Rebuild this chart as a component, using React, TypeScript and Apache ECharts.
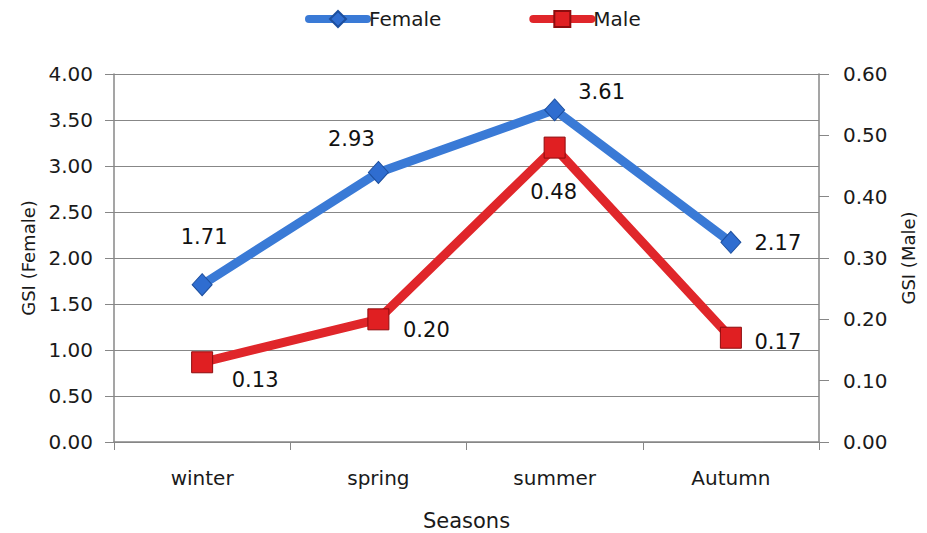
import React, { useEffect, useRef } from "react";
import * as echarts from "echarts";

const seasons = ["winter", "spring", "summer", "Autumn"];
const femaleGSI = [1.71, 2.93, 3.61, 2.17];
const maleGSI = [0.13, 0.2, 0.48, 0.17];
const leftTicks = { min: 0, max: 4, interval: 0.5 };
const rightTicks = { min: 0, max: 0.6, interval: 0.1 };

// where each value label sits relative to its marker centre (px)
const femaleLabelOffsets: [number, number][] = [
  [2, -48],
  [-27, -33],
  [47, -18],
  [47, 1],
];
const maleLabelOffsets: [number, number][] = [
  [53, 18],
  [48, 11],
  [-1, 44],
  [47, 4],
];

const FONT = "'DejaVu Sans', 'Noto Sans', sans-serif";
const AXIS_GREY = "#878787";
const TEXT = "#1a1a1a";

export default function App() {
  const ref = useRef<HTMLDivElement>(null);

  useEffect(() => {
    if (!ref.current) return;
    const chart = echarts.init(ref.current, undefined, { renderer: "svg" });

    const withLabels = (values: number[], offsets: [number, number][]) =>
      values.map((v, i) => ({
        value: v,
        label: { position: "inside", offset: offsets[i] },
      }));

    const valueLabel = {
      show: true,
      fontSize: 21,
      color: "#111",
      fontFamily: FONT,
      align: "center",
      verticalAlign: "middle",
      formatter: (p: any) => Number(p.value).toFixed(2),
    };

    const valueAxisCommon = {
      type: "value",
      nameLocation: "middle",
      nameRotate: 90,
      nameTextStyle: { fontSize: 18, color: TEXT, fontFamily: FONT },
      axisLine: { show: true, lineStyle: { color: AXIS_GREY, width: 1.5 } },
      axisLabel: {
        fontSize: 20,
        color: TEXT,
        fontFamily: FONT,
        formatter: (v: number) => v.toFixed(2),
      },
    };

    chart.setOption({
      animation: false,
      backgroundColor: "#ffffff",
      textStyle: { fontFamily: FONT },
      legend: {
        top: 4,
        left: 300,
        itemWidth: 58,
        itemHeight: 20,
        itemGap: 88,
        lineStyle: { width: 8, cap: "round" },
        textStyle: { fontSize: 20, color: TEXT, fontFamily: FONT, padding: [0, 0, 0, -3] },
        data: ["Female", "Male"],
      },
      grid: { left: 114, right: 108, top: 74, bottom: 91, outerBoundsMode: "none" },
      xAxis: {
        type: "category",
        data: seasons,
        boundaryGap: true,
        name: "Seasons",
        nameLocation: "middle",
        nameGap: 68,
        nameTextStyle: { fontSize: 21, color: TEXT, fontFamily: FONT },
        axisLine: { lineStyle: { color: AXIS_GREY, width: 1.5 } },
        axisTick: { show: true, inside: false, length: 8, lineStyle: { color: AXIS_GREY } },
        axisLabel: { fontSize: 20, color: TEXT, margin: 26, fontFamily: FONT },
      },
      yAxis: [
        {
          ...valueAxisCommon,
          min: leftTicks.min,
          max: leftTicks.max,
          interval: leftTicks.interval,
          name: "GSI (Female)",
          nameGap: 76,
          axisTick: { show: true, length: 9, lineStyle: { color: AXIS_GREY } },
          axisLabel: { ...valueAxisCommon.axisLabel, margin: 21 },
          splitLine: { show: true, lineStyle: { color: AXIS_GREY, width: 1 } },
        },
        {
          ...valueAxisCommon,
          position: "right",
          min: rightTicks.min,
          max: rightTicks.max,
          interval: rightTicks.interval,
          name: "GSI (Male)",
          nameGap: 80,
          axisTick: { show: true, length: 10, lineStyle: { color: AXIS_GREY } },
          axisLabel: { ...valueAxisCommon.axisLabel, margin: 24 },
          splitLine: { show: false },
        },
      ],
      series: [
        {
          name: "Female",
          type: "line",
          yAxisIndex: 0,
          data: withLabels(femaleGSI, femaleLabelOffsets),
          symbol: "diamond",
          symbolSize: [20, 22],
          z: 3,
          lineStyle: { color: "#3a7ad6", width: 9 },
          itemStyle: { color: "#2f6dd0", borderColor: "#1d4f9e", borderWidth: 1 },
          label: valueLabel,
        },
        {
          name: "Male",
          type: "line",
          yAxisIndex: 1,
          data: withLabels(maleGSI, maleLabelOffsets),
          symbol: "rect",
          symbolSize: 21,
          z: 2,
          lineStyle: { color: "#e0262a", width: 9 },
          itemStyle: { color: "#e01f22", borderColor: "#8e0c0e", borderWidth: 1 },
          label: valueLabel,
        },
      ],
    });

    return () => chart.dispose();
  }, []);

  return (
    <div
      ref={ref}
      style={{ position: "fixed", left: 0, top: 0, width: 927, height: 533 }}
    />
  );
}
